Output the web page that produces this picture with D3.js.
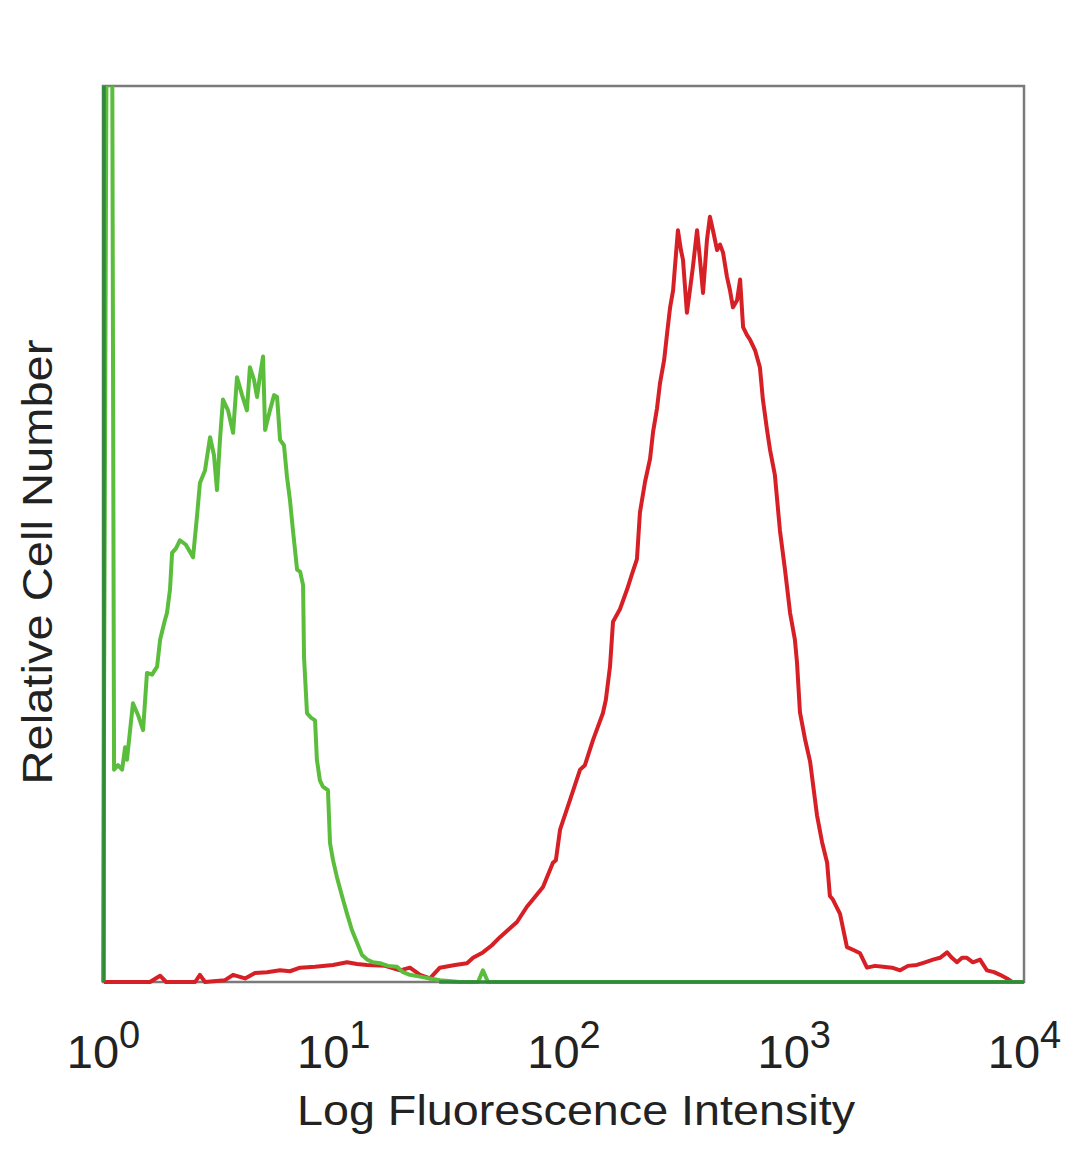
<!DOCTYPE html>
<html>
<head>
<meta charset="utf-8">
<script src="https://cdn.jsdelivr.net/npm/d3@7"></script>
<style>
  html, body { margin: 0; padding: 0; background: #fff; }
  svg { display: block; }
</style>
</head>
<body>
<svg id="chart" width="1080" height="1169"></svg>
<script>
// ---- data (log10 of fluorescence intensity, relative cell count 0-100) ----
const xTickExponents = [0, 1, 2, 3, 4];
const xTitle = "Log Fluorescence Intensity";
const yTitle = "Relative Cell Number";

const greenLog = [0.000,0.017,0.039,0.048,0.065,0.083,0.096,0.104,0.130,0.152,0.174,0.191,0.213,0.235,0.248,0.269,0.278,0.291,0.300,0.317,0.334,0.360,0.391,0.408,0.421,0.443,0.465,0.482,0.495,0.508,0.521,0.543,0.565,0.582,0.604,0.625,0.638,0.656,0.669,0.682,0.695,0.704,0.725,0.743,0.756,0.769,0.786,0.799,0.812,0.825,0.843,0.856,0.869,0.873,0.886,0.903,0.921,0.929,0.942,0.955,0.977,0.986,0.999,1.016,1.038,1.060,1.081,1.103,1.125,1.147,1.173,1.203,1.238,1.277,1.303,1.333,1.377,1.420,1.463,1.550,1.629,1.650,1.672,4.000];
const greenCount = [0,115,115,23.7,24.2,23.7,26.2,24.8,31.1,29.8,28.1,34.5,34.3,35.2,38.2,40.4,41.2,43.8,47.9,48.4,49.3,48.8,47.4,51.9,55.7,57.1,60.8,58.8,54.9,60.5,65.0,63.8,61.3,67.5,65.5,63.8,68.6,67.2,65.3,67.7,69.8,61.6,63.8,65.5,65.3,60.5,59.9,56.4,53.8,50.4,46.0,45.8,44.3,36.3,30.0,29.5,29.2,24.8,22.5,21.8,21.4,15.5,13.6,11.7,9.6,7.6,5.8,4.4,3.0,2.5,2.2,2.1,1.8,1.7,1.1,0.8,0.6,0.4,0.2,0,0,1.3,0,0];

const redLog = [0.004,0.204,0.248,0.274,0.400,0.421,0.443,0.530,0.565,0.617,0.660,0.712,0.769,0.812,0.856,0.921,0.999,1.060,1.103,1.147,1.225,1.290,1.333,1.377,1.420,1.463,1.529,1.581,1.607,1.650,1.689,1.724,1.759,1.798,1.841,1.867,1.911,1.954,1.967,1.985,2.028,2.072,2.093,2.128,2.171,2.184,2.202,2.215,2.245,2.276,2.297,2.319,2.332,2.354,2.376,2.389,2.406,2.419,2.437,2.450,2.463,2.476,2.484,2.497,2.510,2.519,2.536,2.549,2.562,2.580,2.593,2.606,2.615,2.623,2.636,2.649,2.667,2.680,2.693,2.710,2.723,2.736,2.754,2.767,2.780,2.797,2.810,2.832,2.853,2.866,2.884,2.897,2.918,2.940,2.962,2.984,3.005,3.014,3.027,3.049,3.071,3.101,3.123,3.145,3.157,3.170,3.201,3.231,3.257,3.288,3.318,3.353,3.388,3.427,3.462,3.496,3.535,3.570,3.605,3.635,3.666,3.687,3.709,3.731,3.752,3.778,3.809,3.839,3.870,3.896,3.926,3.948];
const redCount = [0,0,0.7,0,0,0.8,0,0.2,0.8,0.4,1.0,1.1,1.3,1.2,1.6,1.7,1.9,2.2,2.0,1.9,1.8,1.3,1.6,0.8,0.4,1.6,1.9,2.1,2.7,3.3,4.1,5.0,5.8,6.7,8.4,9.2,10.6,13.3,13.6,17.0,20.3,23.7,24.2,27.0,30.0,31.5,35.2,40.2,41.6,43.8,45.5,47.2,52.4,55.8,58.4,61.4,64.0,66.8,69.4,72.4,75.3,77.2,79.8,83.9,81.7,80.6,74.7,77.2,79.8,83.9,80.6,76.9,80.0,82.8,85.4,83.9,81.7,82.3,81.4,78.7,77.2,75.3,76.1,78.4,73.1,72.2,71.7,70.5,68.6,65.0,61.6,59.4,56.6,50.4,46.0,41.2,38.2,35.7,30.1,27.1,24.6,18.6,15.6,13.3,9.6,9.2,7.6,3.9,3.6,3.2,1.6,1.8,1.7,1.6,1.3,1.8,1.9,2.2,2.5,2.7,3.3,2.7,2.2,2.7,2.7,2.2,2.5,1.3,1.1,0.8,0.4,0];

// ---- layout ----
const svg = d3.select("#chart");
const L = 103, R = 1024, T = 86, B = 982;

const x = d3.scaleLog().domain([1, 10000]).range([L, R]);
const y = d3.scaleLinear().domain([0, 100]).range([B, T]);

const green = greenLog.map((e, i) => ({ v: Math.pow(10, e), c: greenCount[i] }));
const red = redLog.map((e, i) => ({ v: Math.pow(10, e), c: redCount[i] }));

svg.append("defs").append("clipPath").attr("id", "plotclip")
  .append("rect").attr("x", L - 3).attr("y", T).attr("width", R - L + 6).attr("height", B - T + 3);

// frame
svg.append("rect")
  .attr("x", L).attr("y", T).attr("width", R - L).attr("height", B - T)
  .attr("fill", "none").attr("stroke", "#7a7a7a").attr("stroke-width", 2.5);

const line = d3.line().x(d => x(d.v)).y(d => y(d.c)).curve(d3.curveLinear);

const g = svg.append("g").attr("clip-path", "url(#plotclip)");
g.append("path").datum(red).attr("d", line)
  .attr("fill", "none").attr("stroke", "#d71f26").attr("stroke-width", 4)
  .attr("stroke-linejoin", "round");
g.append("path").datum(green).attr("d", line)
  .attr("fill", "none").attr("stroke", "#5bbd3c").attr("stroke-width", 4)
  .attr("stroke-linejoin", "round");

// darker green baseline / left edge like the reference
g.append("line").attr("x1", x(10 ** 1.46)).attr("x2", R).attr("y1", B).attr("y2", B)
  .attr("stroke", "#2f8a3a").attr("stroke-width", 3.5);
g.append("line").attr("x1", L + 1).attr("x2", L + 1).attr("y1", T).attr("y2", B)
  .attr("stroke", "#2f8a3a").attr("stroke-width", 3.5);

// x tick labels (10^n)
const xAxis = d3.axisBottom(x).tickValues(xTickExponents.map(e => Math.pow(10, e)))
  .tickSize(0).tickFormat("");
const axG = svg.append("g").attr("transform", `translate(0,${B})`).call(xAxis);
axG.select(".domain").remove();
axG.selectAll(".tick").each(function (d, i) {
  const t = d3.select(this).append("text")
    .attr("y", 1068 - B).attr("text-anchor", "middle")
    .attr("fill", "#222").attr("font-family", "'Liberation Sans', Arial, sans-serif")
    .attr("font-size", 47);
  t.append("tspan").text("10");
  t.append("tspan").attr("dy", -20).attr("font-size", 38).text(xTickExponents[i]);
});

// axis titles
svg.append("text")
  .attr("x", 576).attr("y", 1125).attr("text-anchor", "middle")
  .attr("fill", "#222").attr("font-family", "'Liberation Sans', Arial, sans-serif")
  .attr("font-size", 42).attr("textLength", 558).attr("lengthAdjust", "spacingAndGlyphs")
  .text(xTitle);

svg.append("text")
  .attr("transform", "translate(52,562) rotate(-90)")
  .attr("text-anchor", "middle")
  .attr("fill", "#222").attr("font-family", "'Liberation Sans', Arial, sans-serif")
  .attr("font-size", 42).attr("textLength", 445).attr("lengthAdjust", "spacingAndGlyphs")
  .text(yTitle);
</script>
</body>
</html>
